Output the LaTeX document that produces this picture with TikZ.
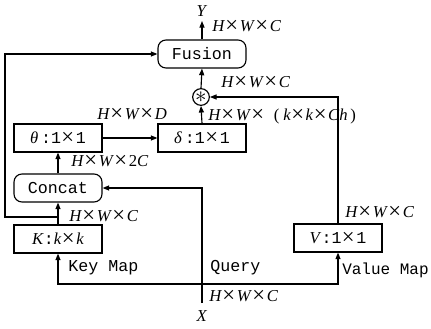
\documentclass[tikz,border=0pt]{standalone}
\usepackage{fontspec}
\setmainfont{Liberation Serif}
\newfontfamily\monof{Liberation Mono}
\usetikzlibrary{arrows.meta}
\newcommand{\tx}{\hspace{0.3pt}\raisebox{-0.8pt}{\fontsize{17}{17}\selectfont ×}\hspace{1.2pt}}
\newcommand{\mv}[1]{\textit{#1}}
\begin{document}
\begin{tikzpicture}[x=0.75pt,y=-0.75pt,
  font=\fontsize{12.5}{14}\selectfont,
  boxs/.style={draw,line width=0.85pt,minimum width=66pt,minimum height=21pt,inner sep=0pt},
  rbox/.style={boxs,rounded corners=6pt},
  arr/.style={line width=0.85pt,-{Triangle[length=5pt,width=3.8pt]}},
  lab/.style={anchor=west,inner sep=0pt}]
\useasboundingbox (0,0) rectangle (431,328);
% nodes
\node[rbox] (fusion) at (202,54) {\monof Fusion};
\node[draw,circle,line width=0.85pt,minimum size=12.5pt,inner sep=0pt] (circ) at (201,97) {\fontsize{17}{17}\selectfont$\mathbf{\ast}$};
\node[boxs] (delta) at (202,138) {\mv{δ}\,{\monof :1}\tx{\monof 1}};
\node[boxs] (theta) at (58,138) {\mv{θ}\,{\monof :1}\tx{\monof 1}};
\node[rbox] (concat) at (58,188) {\monof Concat};
\node[boxs] (K) at (58,239) {\mv{K}{\monof :}\mv{k}\tx\mv{k}};
\node[boxs] (V) at (338,238) {\mv{V}{\monof :1}\tx{\monof 1}};
\node[inner sep=0pt] (Y) at (202,11) {\mv{Y}};
\node[inner sep=0pt] (X) at (202,316) {\mv{X}};
\coordinate (ytop) at (202,21);
\coordinate (xb) at (202,303);
\coordinate (br) at (58,217);
\coordinate (lb) at (5,217);
\coordinate (hl) at (58,284);
\coordinate (hr) at (338,284);
% connectors
\draw[arr] (fusion.north) -- (ytop);
\draw[arr] (circ.north) -- (fusion.south);
\draw[arr] (delta.north) -- (circ.south);
\draw[arr] (theta.east) -- (delta.west);
\draw[arr] (concat.north) -- (theta.south);
\draw[arr] (K.north) -- (concat.south);
\draw[arr] (br) -- (lb) |- (fusion.west);
\draw[arr] (xb) |- (concat.east);
\draw[line width=0.85pt,{Triangle[length=5pt,width=3.8pt]}-{Triangle[length=5pt,width=3.8pt]}] (K.south) -- (hl) -- (hr) -- (V.south);
\draw[arr] (V.north) |- (circ.east);
% labels
\node[lab] (l1) at (212,26) {\mv{H}\tx\mv{W}\tx\mv{C}};
\node[lab] (l2) at (221,82) {\mv{H}\tx\mv{W}\tx\mv{C}};
\node[lab] (l3) at (208,116) {\mv{H}\tx\mv{W}\tx\hspace{6pt}(\hspace{3pt}\mv{k}\tx\mv{k}\tx\mv{Ch}\hspace{2pt})};
\node[lab] (l4) at (97,114) {\mv{H}\tx\mv{W}\tx\mv{D}};
\node[lab] (l5) at (71,161) {\mv{H}\tx\mv{W}\tx 2\mv{C}};
\node[lab] (l6) at (69,216) {\mv{H}\tx\mv{W}\tx\mv{C}};
\node[lab] (l7) at (345,212) {\mv{H}\tx\mv{W}\tx\mv{C}};
\node[lab] (l8) at (209,296) {\mv{H}\tx\mv{W}\tx\mv{C}};
\node[lab] (km) at (68,268) {\monof Key Map};
\node[lab] (qu) at (210,268) {\monof Query};
\node[lab,font=\fontsize{12}{14}\selectfont] (vm) at (342,270) {\monof Value Map};
\end{tikzpicture}
\end{document}
